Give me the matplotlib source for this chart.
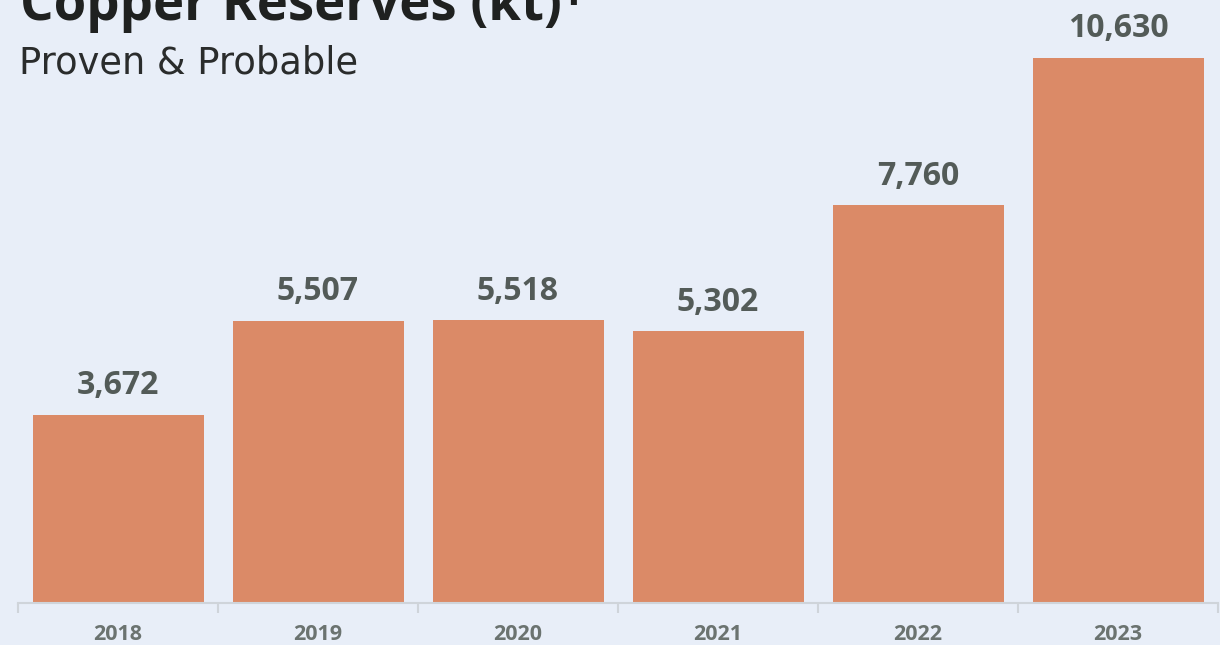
import matplotlib.pyplot as plt
import numpy as np

years = ['2018', '2019', '2020', '2021', '2022', '2023']
reserves = [3672, 5507, 5518, 5302, 7760, 10630]

bg = '#e8eef8'
bar_color = '#db8a67'
label_color = '#535b58'

fig = plt.figure(figsize=(12.2, 6.45), dpi=100)
fig.patch.set_facecolor(bg)
ax = fig.add_axes([18 / 1220, 42 / 645, 1200 / 1220, 603 / 645])
ax.set_facecolor(bg)

x = np.arange(len(years))
ax.bar(x, reserves, width=0.855, color=bar_color, zorder=2)

for xi, v in zip(x, reserves):
    ax.annotate(f'{v:,}', (xi, v), xytext=(0, 9), textcoords='offset points',
                ha='center', va='bottom', fontsize=23, fontweight='bold',
                color=label_color, family='Open Sans')

ax.set_xlim(-0.5, len(years) - 0.5)
ax.set_ylim(0, 11761)
ax.set_yticks([])
for s in ['top', 'right', 'left']:
    ax.spines[s].set_visible(False)
ax.spines['bottom'].set_color('#cfd4da')
ax.spines['bottom'].set_linewidth(1.5)

ax.set_xticks(x)
ax.set_xticklabels(years, fontsize=15.5, fontweight='bold', color='#6b7370', family='Open Sans')
ax.tick_params(axis='x', length=0, pad=15)
ax.set_xticks(np.arange(len(years) + 1) - 0.5, minor=True)
ax.tick_params(axis='x', which='minor', length=7, width=1.5, color='#cfd4da')

fig.text(20 / 1220, 1 - 20 / 645, 'Copper Reserves (kt)\u00b9', fontsize=38, fontweight='bold',
         color='#1f2120', family='Open Sans', ha='left', va='baseline')
fig.text(19 / 1220, 1 - 73 / 645, 'Proven & Probable', fontsize=26.5,
         color='#2a2c2c', family='DejaVu Sans', ha='left', va='baseline')

plt.savefig('out.png', facecolor=bg)
